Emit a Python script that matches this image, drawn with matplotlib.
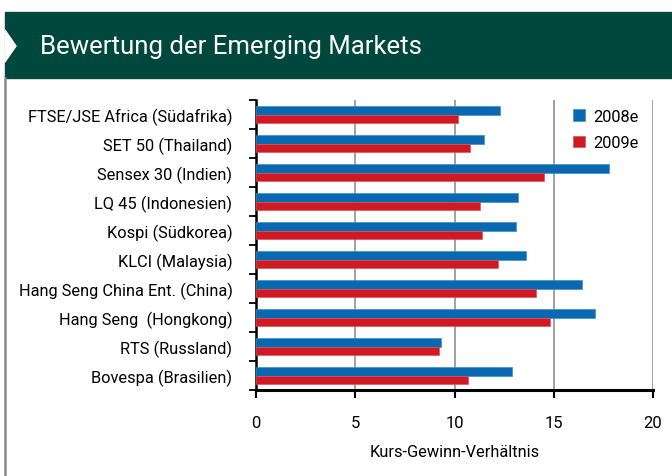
import matplotlib
matplotlib.use("Agg")
import matplotlib.pyplot as plt
from matplotlib.patches import Polygon, Rectangle
from matplotlib.lines import Line2D
import numpy as np

categories = ["FTSE/JSE Africa (Südafrika)", "SET 50 (Thailand)", "Sensex 30 (Indien)",
              "LQ 45 (Indonesien)", "Kospi (Südkorea)", "KLCI (Malaysia)",
              "Hang Seng China Ent. (China)", "Hang Seng  (Hongkong)", "RTS (Russland)",
              "Bovespa (Brasilien)"]
kgv_2008 = [12.3, 11.5, 17.8, 13.2, 13.1, 13.6, 16.4, 17.1, 9.3, 12.9]
kgv_2009 = [10.2, 10.8, 14.5, 11.3, 11.4, 12.2, 14.1, 14.8, 9.2, 10.7]
series_names = ["2008e", "2009e"]
xticks = [0, 5, 10, 15, 20]
title = "Bewertung der Emerging Markets"
xlabel = "Kurs-Gewinn-Verhältnis"

plt.rcParams['font.family'] = ['Roboto', 'DejaVu Sans']

W, H = 672, 477
fig = plt.figure(figsize=(W/100, H/100), dpi=100)

def fx(px): return px / W
def fy(py): return 1 - py / H

# Header band
fig.patches.append(Rectangle((fx(5), fy(79)), 1 - fx(5), fy(13) - fy(79),
                             transform=fig.transFigure, color="#00473E", zorder=0))
fig.patches.append(Polygon([(fx(5), fy(31)), (fx(16), fy(47)), (fx(5), fy(63))],
                           closed=True, transform=fig.transFigure, color="white", zorder=1))
fig.lines.append(Line2D([fx(5), fx(5)], [fy(79), 0], transform=fig.transFigure,
                        color="#8a8a8a", lw=1.8))
fig.text(fx(40), fy(47), title, color="white", fontsize=18.5, va="center", ha="left")

ax = fig.add_axes([fx(256), fy(391), fx(653) - fx(256), fy(101) - fy(391)])
n = len(categories)
y = np.arange(n)[::-1].astype(float)
h = 0.28
ax.barh(y + h/2, kgv_2008, height=h, color="#0868B0", edgecolor="#3d8fd0", linewidth=0.5,
        label=series_names[0], zorder=3)
ax.barh(y - h/2, kgv_2009, height=h, color="#CF1A24", edgecolor="#e0505a", linewidth=0.5,
        label=series_names[1], zorder=3)

ax.set_xlim(0, 20)
ax.set_ylim(-0.5, n - 0.5)
ax.set_xticks(xticks)
ax.set_xticklabels([str(t) for t in xticks], fontsize=12)
ax.tick_params(axis="x", direction="out", length=6, width=1.5, pad=12)
ax.set_yticks(y)
ax.set_yticklabels(categories, fontsize=11.8)
ax.tick_params(axis="y", which="major", length=0, pad=17)
ax.set_yticks(np.arange(n + 1) - 0.5, minor=True)
ax.tick_params(axis="y", which="minor", direction="out", length=5, width=1.3)
for s in ["top", "right"]:
    ax.spines[s].set_visible(False)
ax.spines["left"].set_linewidth(1.8)
ax.spines["bottom"].set_linewidth(2.2)
for xv in xticks[1:]:
    ax.axvline(xv, color="#9a9a9a", lw=1.3, zorder=1)
ax.set_xlabel(xlabel, fontsize=11.8, labelpad=10)

ax.legend(loc="upper right", bbox_to_anchor=(1.0, 1.02), frameon=False, fontsize=11.8,
          handlelength=0.7, handleheight=0.7, handletextpad=0.5, labelspacing=0.7)

fig.savefig("out.png", dpi=100)
